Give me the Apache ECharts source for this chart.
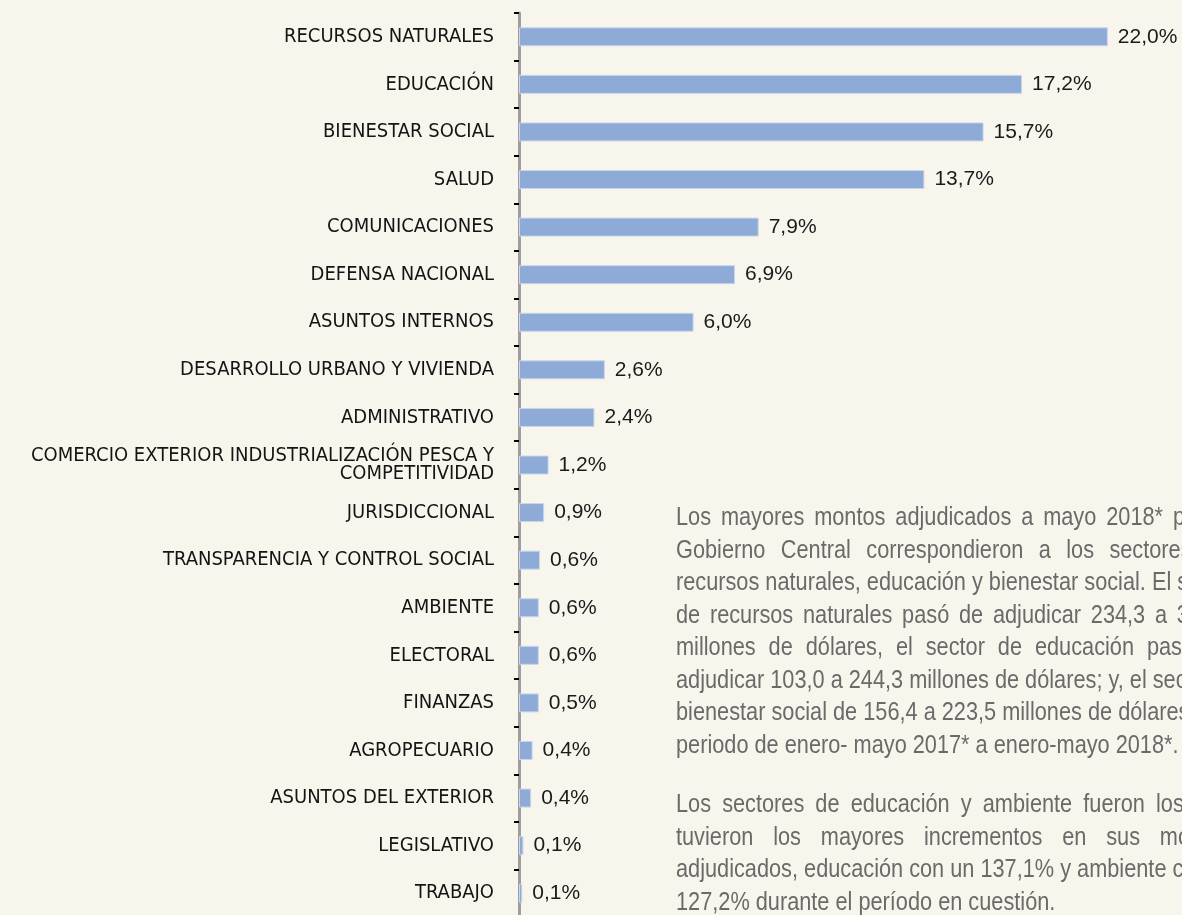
<!DOCTYPE html>
<html>
<head>
<meta charset="utf-8">
<script src="https://cdn.jsdelivr.net/npm/echarts@6/dist/echarts.min.js"></script>
<style>
    html, body {
        margin: 0;
        padding: 0;
        background: #f8f6ec;
    }
    #wrap {
        position: relative;
        width: 1182px;
        height: 915px;
        overflow: hidden;
    }
    #chart {
        position: absolute;
        left: 0;
        top: 0;
        width: 1182px;
        height: 915px;
    }
    .note {
        position: absolute;
        left: 676px;
        font-family: 'Liberation Sans', Arial, sans-serif;
        font-size: 26.5px;
        line-height: 32.5px;
        color: #6a6a6a;
        transform: scaleX(0.82);
        transform-origin: 0 0;
    }
    .note div {
        width: 677px;
        white-space: nowrap;
        text-align: justify;
        text-align-last: justify;
    }
    .note div.last {
        text-align-last: left;
    }
</style>
</head>
<body>
<div id="wrap">
    <div id="chart"></div>
    <div class="note" style="top: 500px;">
        <div>Los mayores montos adjudicados a mayo 2018* por el</div>
        <div>Gobierno Central correspondieron a los sectores de</div>
        <div>recursos naturales, educación y bienestar social. El sector</div>
        <div>de recursos naturales pasó de adjudicar 234,3 a 312,5</div>
        <div>millones de dólares, el sector de educación pasó de</div>
        <div>adjudicar 103,0 a 244,3 millones de dólares; y, el sector de</div>
        <div>bienestar social de 156,4 a 223,5 millones de dólares en el</div>
        <div class="last">periodo de enero- mayo 2017* a enero-mayo 2018*.</div>
    </div>
    <div class="note" style="top: 787px;">
        <div>Los sectores de educación y ambiente fueron los que</div>
        <div>tuvieron los mayores incrementos en sus montos</div>
        <div>adjudicados, educación con un 137,1% y ambiente con un</div>
        <div class="last">127,2% durante el período en cuestión.</div>
    </div>
</div>
<script>
    // sectores, de arriba hacia abajo
    var sectors = [
        'RECURSOS NATURALES',
        'EDUCACIÓN',
        'BIENESTAR SOCIAL',
        'SALUD',
        'COMUNICACIONES',
        'DEFENSA NACIONAL',
        'ASUNTOS INTERNOS',
        'DESARROLLO URBANO Y VIVIENDA',
        'ADMINISTRATIVO',
        'COMERCIO EXTERIOR INDUSTRIALIZACIÓN PESCA Y\nCOMPETITIVIDAD',
        'JURISDICCIONAL',
        'TRANSPARENCIA Y CONTROL SOCIAL',
        'AMBIENTE',
        'ELECTORAL',
        'FINANZAS',
        'AGROPECUARIO',
        'ASUNTOS DEL EXTERIOR',
        'LEGISLATIVO',
        'TRABAJO'
    ];

    // largo de cada barra tal como se ve en el grafico
    var barLengths = [19.9, 17.0, 15.7, 13.7, 8.1, 7.3, 5.9, 2.9, 2.55, 1.0,
        0.85, 0.71, 0.67, 0.67, 0.67, 0.46, 0.41, 0.15, 0.11];

    // etiquetas de participacion
    var shareLabels = ['22,0%', '17,2%', '15,7%', '13,7%', '7,9%', '6,9%', '6,0%', '2,6%', '2,4%', '1,2%',
        '0,9%', '0,6%', '0,6%', '0,6%', '0,5%', '0,4%', '0,4%', '0,1%', '0,1%'];

    var chart = echarts.init(document.getElementById('chart'));
    chart.setOption({
        backgroundColor: 'transparent',
        animation: false,
        grid: {
            left: 519,
            top: 13,
            width: 651,
            height: 904,
            containLabel: false,
            outerBoundsMode: 'none'
        },
        xAxis: {
            type: 'value',
            min: 0,
            max: 22,
            show: false
        },
        yAxis: {
            type: 'category',
            inverse: true,
            data: sectors,
            axisLine: {
                show: true,
                lineStyle: {
                    color: '#9e9e9e',
                    width: 3
                }
            },
            axisTick: {
                show: true,
                length: 5,
                lineStyle: {
                    color: '#000',
                    width: 2
                }
            },
            axisLabel: {
                margin: 25,
                fontSize: 20,
                lineHeight: 18,
                fontFamily: 'DejaVu Sans Condensed',
                color: '#141414',
                align: 'right'
            }
        },
        series: [{
            type: 'bar',
            data: barLengths,
            barWidth: 19,
            itemStyle: {
                color: '#8eaad6',
                borderColor: '#c9d6ec',
                borderWidth: 1
            },
            label: {
                show: true,
                position: 'right',
                distance: 10,
                fontSize: 21,
                fontFamily: 'Liberation Sans',
                color: '#1a1a1a',
                formatter: function (p) {
                    return shareLabels[p.dataIndex];
                }
            }
        }]
    });
</script>
</body>
</html>
